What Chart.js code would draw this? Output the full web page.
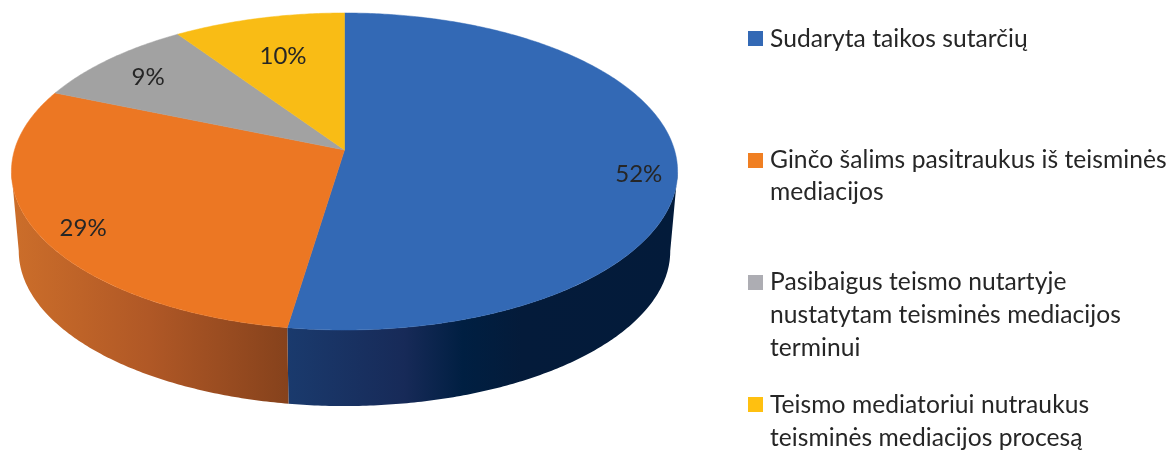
<!DOCTYPE html>
<html>
<head>
<meta charset="utf-8">
<script src="https://cdn.jsdelivr.net/npm/chart.js@4/dist/chart.umd.min.js"></script>
<style>
    html, body { margin: 0; background: #fff; }
    #wrap { position: relative; width: 1170px; height: 450px; overflow: hidden; }
    canvas { position: absolute; left: 0; top: 0; }
    .swatch { position: absolute; left: 748px; width: 15px; height: 15px; }
    .line { position: absolute; left: 770px; font: 24.6px Lato, sans-serif; letter-spacing: 0.05px; color: #262626; white-space: nowrap; line-height: 32px; }
</style>
</head>
<body>
<div id="wrap"><canvas id="pie" width="1170" height="450"></canvas></div>
<script>
const categories = [
    ['Sudaryta taikos sutarčių'],
    ['Ginčo šalims pasitraukus iš teisminės', 'mediacijos'],
    ['Pasibaigus teismo nutartyje', 'nustatytam teisminės mediacijos', 'terminui'],
    ['Teismo mediatoriui nutraukus', 'teisminės mediacijos procesą']
];
const shares = [52.4, 28.9, 9.2, 9.5];
const colors = ['#3369b5', '#ec7723', '#a2a2a2', '#f9bc15'];
const swatchColors = ['#3369b5', '#f07f22', '#adadb3', '#ffc010'];

// side wall shading, left to right across the slice
const sideShades = [
    [[0, '#1a3a6d'], [0.3, '#172a58'], [0.45, '#001f42'], [0.6, '#041b3a'], [1, '#031b3a']],
    [[0, '#cc6e2a'], [0.5, '#b05826'], [1, '#86421c']],
    [[0, '#888888'], [1, '#888888']],
    [[0, '#c8960f'], [1, '#c8960f']]
];

// where the labels sit: fraction of the radius, then a small nudge
const labelRadius = [0.91, 0.86, 0.8, 0.69];
const labelNudge = [[-8, 13], [1, 9], [-5, 1], [0, 0]];
const legendTops = [[22], [143, 175], [265, 298, 331], [388, 421]];
const swatchTops = [31, 153, 275, 397];

// the picture is a tilted disc, so this is a perspective map of the unit circle
const view = { cx: 344.5, cy: 150, a: 330, b: 155.6, k: 0.1356, depth: 80, shrink: 0.978 };

function project(u, v, low) {
    const w = 1 - view.k * v;
    const s = low ? view.shrink : 1;
    return {
        x: view.cx + s * view.a * u / w,
        y: view.cy + (low ? view.depth : 0) + s * view.b * v / w
    };
}

function rim(ctx, from, to, low, first) {
    const steps = Math.max(2, Math.ceil(Math.abs(to - from) / 0.01));
    for (let i = 0; i <= steps; i++) {
        const t = from + (to - from) * i / steps;
        const p = project(Math.cos(t), Math.sin(t), low);
        if (i === 0 && first) ctx.moveTo(p.x, p.y);
        else ctx.lineTo(p.x, p.y);
    }
}

const tiltedPie = {
    id: 'tiltedPie',
    beforeDatasetsDraw(chart) {
        const ctx = chart.ctx;
        const arcs = chart.getDatasetMeta(0).data;

        // front wall first, only the part of the rim that faces us
        const frontFrom = Math.acos(-view.k) - Math.PI / 2;
        const frontTo = Math.PI - frontFrom;
        arcs.forEach((arc, i) => {
            const from = Math.max(arc.startAngle, frontFrom);
            const to = Math.min(arc.endAngle, frontTo);
            if (to <= from) return;
            const left = project(Math.cos(to), Math.sin(to), false).x;
            const right = project(Math.cos(from), Math.sin(from), false).x;
            const grad = ctx.createLinearGradient(left, 0, right, 0);
            sideShades[i].forEach(s => grad.addColorStop(s[0], s[1]));
            ctx.beginPath();
            rim(ctx, from, to, false, true);
            rim(ctx, to, from, true, false);
            ctx.closePath();
            ctx.fillStyle = grad;
            ctx.fill();
        });

        // top face
        arcs.forEach((arc, i) => {
            const c = project(0, 0, false);
            ctx.beginPath();
            ctx.moveTo(c.x, c.y);
            rim(ctx, arc.startAngle, arc.endAngle, false, false);
            ctx.closePath();
            ctx.fillStyle = colors[i];
            ctx.strokeStyle = colors[i];
            ctx.lineWidth = 0.5;
            ctx.fill();
            ctx.stroke();
        });

        // percent labels
        ctx.font = '24px Lato, sans-serif';
        ctx.fillStyle = '#262626';
        ctx.textAlign = 'center';
        ctx.textBaseline = 'middle';
        arcs.forEach((arc, i) => {
            const mid = (arc.startAngle + arc.endAngle) / 2;
            const p = project(labelRadius[i] * Math.cos(mid), labelRadius[i] * Math.sin(mid), false);
            ctx.fillText(Math.round(shares[i]) + '%', p.x + labelNudge[i][0], p.y + labelNudge[i][1]);
        });
        return false;
    }
};

new Chart(document.getElementById('pie'), {
    type: 'pie',
    data: {
        labels: categories,
        datasets: [{ data: shares, backgroundColor: colors, borderWidth: 0 }]
    },
    options: {
        responsive: false,
        animation: false,
        plugins: { legend: { display: false }, tooltip: { enabled: false } }
    },
    plugins: [tiltedPie]
});

const wrap = document.getElementById('wrap');
categories.forEach((lines, i) => {
    const box = document.createElement('div');
    box.className = 'swatch';
    box.style.top = swatchTops[i] + 'px';
    box.style.background = swatchColors[i];
    wrap.appendChild(box);
    lines.forEach((text, j) => {
        const line = document.createElement('div');
        line.className = 'line';
        line.style.top = legendTops[i][j] + 'px';
        line.textContent = text;
        wrap.appendChild(line);
    });
});
</script>
</body>
</html>
